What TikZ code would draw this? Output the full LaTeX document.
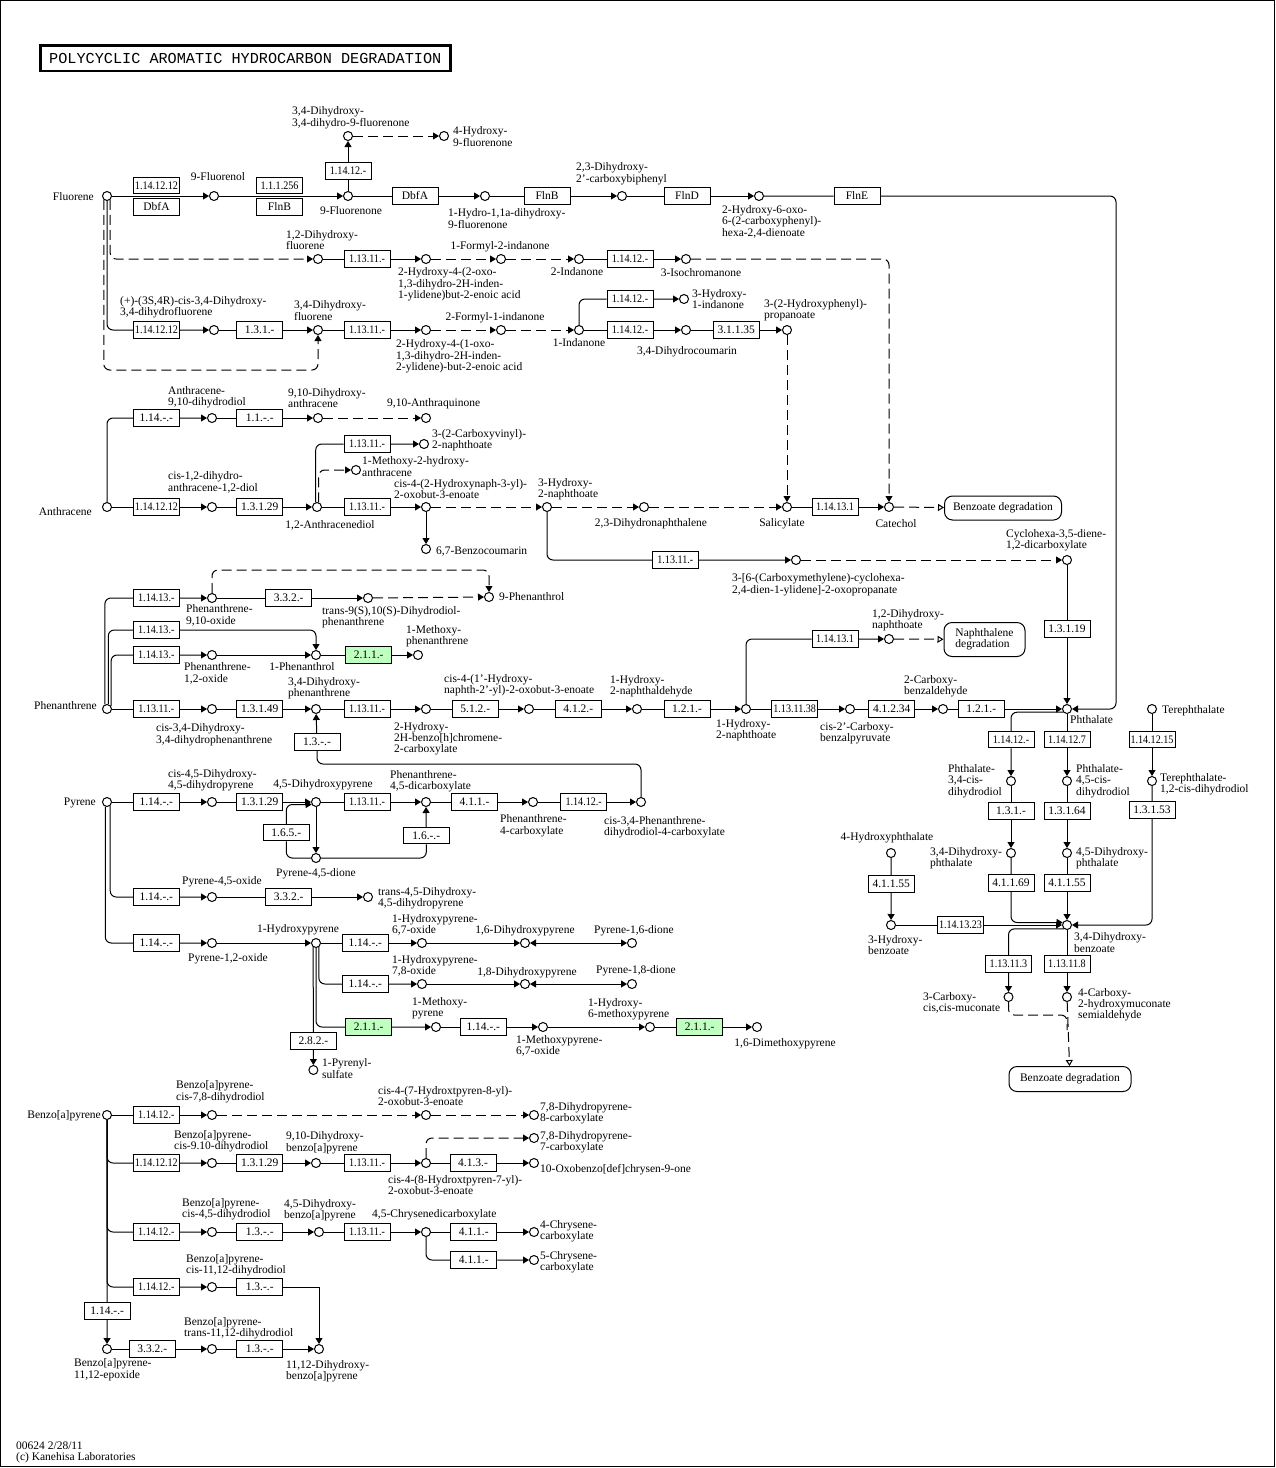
\documentclass[tikz,border=0pt]{standalone}
\usepackage{fontspec}
\setmainfont{Liberation Serif}
\newfontfamily\ecfontn{Liberation Serif}[FakeStretch=0.88]
\newfontfamily\titfont{Liberation Mono}
\usetikzlibrary{arrows.meta}
\definecolor{kgreen}{HTML}{BFFFBF}
\newcounter{lbc}
\newcommand{\LBL}[4]{\stepcounter{lbc}\node[lb,anchor=#1] (lab\arabic{lbc}) at (#2,#3) {\begin{tabular}{@{}l@{}}#4\end{tabular}};}
\newcommand{\CPD}[2]{\node[cpd] (#1) at (#2) {};}
\newcommand{\ECB}[4][]{\node[ecbox,#1] (#2) at (#3) {#4};}
\tikzset{
 cpd/.style={circle,draw,fill=white,line width=1pt,minimum size=9pt,inner sep=0pt},
 ecbox/.style={rectangle,draw,fill=white,line width=1pt,minimum width=46pt,minimum height=16.5pt,inner sep=0pt,font=\fontsize{11.5}{11}\selectfont},
 nar/.style={font=\ecfontn\fontsize{11.5}{11}\selectfont},
 grn/.style={fill=kgreen},
 lb/.style={inner sep=0pt,font=\fontsize{11.5}{11}\selectfont},
 mapbox/.style={rectangle,draw,rounded corners=8pt,line width=1pt,inner sep=0pt,font=\fontsize{11.5}{11}\selectfont},
 ln/.style={line width=1pt},
 arr/.style={line width=1pt,-{Triangle[length=6pt,width=7pt]}},
 oarr/.style={line width=1pt,-{Triangle[open,length=6pt,width=7pt]}},
 dbl/.style={line width=1pt,{Triangle[length=6pt,width=7pt]}-{Triangle[length=6pt,width=7pt]}},
 dsh/.style={dash pattern=on 10pt off 5pt},
 rc/.style={rounded corners=6pt},
}
\begin{document}
\begin{tikzpicture}[x=1pt,y=-1pt]
\useasboundingbox (0,0) rectangle (1276,1468);
\draw[line width=1pt] (0.5,0.5) rectangle (1274.5,1466.5);
\node[draw,line width=2.5pt,inner sep=0pt,minimum width=410pt,minimum height=25.5pt,font=\titfont\fontsize{15.2}{15}\selectfont] (title) at (245.3,58) {POLYCYCLIC AROMATIC HYDROCARBON DEGRADATION};

% ---------- compounds ----------
\CPD{flu}{107,196} \CPD{fol}{214,196} \CPD{fone}{348,196} \CPD{dhdf}{348,136}
\CPD{hf}{444,136} \CPD{hdf}{485,196} \CPD{dcb}{622,196} \CPD{hoc}{759,196}
\CPD{c12}{318,259} \CPD{hoi1}{426,259} \CPD{fi2}{501,259} \CPD{ind2}{579,259} \CPD{isoc}{686,259}
\CPD{cdf}{214,330} \CPD{c34}{318,330} \CPD{hoi2}{426,330} \CPD{fi1}{501,330} \CPD{ind1}{579,330}
\CPD{h1i}{684,299} \CPD{dhc}{686,330} \CPD{hpp}{787,330}
\CPD{anth}{107,507} \CPD{adhd}{212,418} \CPD{dha}{318,418} \CPD{aq}{426,418}
\CPD{cdad}{212,507} \CPD{and}{317,507} \CPD{cvn}{424,444} \CPD{mha}{356,470}
\CPD{hnb}{426,507} \CPD{bzc}{426,549} \CPD{hn}{547,507} \CPD{dhn}{644,507}
\CPD{sal}{787,507} \CPD{cat}{889,507} \CPD{ccp}{796,560} \CPD{chd}{1067,560} \CPD{dhnt}{889,639}
\CPD{phen}{107,709} \CPD{p910}{212,598} \CPD{tdp}{368,598} \CPD{p9ol}{489,597}
\CPD{p12o}{212,655} \CPD{p1ol}{316,655} \CPD{mp}{418,655}
\CPD{cdp}{212,709} \CPD{dhp}{316,709} \CPD{hbc}{426,709} \CPD{chn}{529,709} \CPD{hna}{637,709}
\CPD{hnt}{746,709} \CPD{ccbp}{850,709} \CPD{cbz}{943,709} \CPD{pht}{1067,709} \CPD{tph}{1152,709}
\CPD{p34}{1011,781} \CPD{p45}{1067,781} \CPD{t12}{1152,781}
\CPD{dhp34}{1011,853} \CPD{dhp45}{1067,853} \CPD{hph}{891,853}
\CPD{hbz}{891,925} \CPD{dhbz}{1067,925} \CPD{ccm}{1008.5,997} \CPD{chms}{1067,997}
\CPD{pyr}{107,802} \CPD{cdpy}{212,802} \CPD{dhpy}{316,802} \CPD{pyd}{316,858}
\CPD{pdc}{426,802} \CPD{p4c}{533,802} \CPD{cpdc}{641,802}
\CPD{p45o}{212,897} \CPD{tdpy}{368,897} \CPD{p12ox}{212,943} \CPD{hpy}{316,943}
\CPD{hp67}{422,943} \CPD{d16}{525,943} \CPD{pd16}{632,943}
\CPD{hp78}{422,984} \CPD{d18}{525,984} \CPD{pd18}{632,984}
\CPD{mpy}{436,1027} \CPD{mp67}{543,1027} \CPD{hmp}{650,1027} \CPD{dmp}{757,1027}
\CPD{pys}{313.4,1070}
\CPD{bap}{107,1115} \CPD{b78}{212,1115} \CPD{c7h}{426,1115} \CPD{dp8}{534,1115}
\CPD{b910}{212,1163} \CPD{dhb910}{316,1163} \CPD{c8h}{426,1163} \CPD{dp7}{534,1138} \CPD{oxo}{534,1163}
\CPD{b45}{212,1232} \CPD{dhb45}{319,1232} \CPD{cdc}{426,1232} \CPD{c4}{534,1232} \CPD{c5}{534,1260}
\CPD{b1112}{212,1287} \CPD{dhb1112}{319,1349} \CPD{bep}{107,1349} \CPD{btd}{212,1349}

% ---------- enzymes ----------
\ECB[nar]{e1}{156.5,185.5}{1.14.12.12} \ECB{e2}{156.5,207}{DbfA}
\ECB[nar]{e3}{279.5,185.5}{1.1.1.256} \ECB{e4}{279.5,207}{FlnB}
\ECB[nar]{e5}{348,171}{1.14.12.-} \ECB{e6}{415,196}{DbfA} \ECB{e7}{547,196}{FlnB}
\ECB{e8}{687,196}{FlnD} \ECB{e9}{857,196}{FlnE}
\ECB[nar]{e10}{367,259}{1.13.11.-} \ECB[nar]{e11}{630,259}{1.14.12.-}
\ECB[nar]{e12}{156.5,330}{1.14.12.12} \ECB{e13}{259.7,330}{1.3.1.-} \ECB[nar]{e14}{367,330}{1.13.11.-}
\ECB[nar]{e15}{630,299}{1.14.12.-} \ECB[nar]{e16}{630,330}{1.14.12.-} \ECB{e17}{736.3,330}{3.1.1.35}
\ECB{e18}{156.3,418}{1.14.-.-} \ECB{e19}{259.7,418}{1.1.-.-} \ECB[nar]{e20}{367,444}{1.13.11.-}
\ECB[nar]{e21}{156.5,507}{1.14.12.12} \ECB{e22}{259.7,507}{1.3.1.29} \ECB[nar]{e23}{367,507}{1.13.11.-}
\ECB[nar]{e24}{835,507}{1.14.13.1} \ECB[nar]{e25}{675.3,560}{1.13.11.-} \ECB{e26}{1067,629}{1.3.1.19}
\ECB[nar]{e27}{156.3,598}{1.14.13.-} \ECB{e28}{288.7,598}{3.3.2.-} \ECB[nar]{e29}{156.3,630}{1.14.13.-}
\ECB[nar]{e30}{156.3,655}{1.14.13.-} \ECB[grn]{e31}{368.7,655}{2.1.1.-}
\ECB[nar]{e32}{156.3,709}{1.13.11.-} \ECB{e33}{259.7,709}{1.3.1.49} \ECB{e34}{317,742}{1.3.-.-}
\ECB[nar]{e35}{367,709}{1.13.11.-} \ECB{e36}{475.3,709}{5.1.2.-} \ECB{e37}{578.3,709}{4.1.2.-}
\ECB{e38}{687,709}{1.2.1.-} \ECB[nar]{e39}{835,639}{1.14.13.1} \ECB[nar]{e40}{794.7,709}{1.13.11.38}
\ECB{e41}{891.7,709}{4.1.2.34} \ECB{e42}{981.3,709}{1.2.1.-}
\ECB[nar]{e43}{1011,739.5}{1.14.12.-} \ECB[nar]{e44}{1067,739.5}{1.14.12.7} \ECB[nar]{e45}{1152,739.5}{1.14.12.15}
\ECB{e46}{1011,811}{1.3.1.-} \ECB{e47}{1067,811}{1.3.1.64} \ECB{e48}{1152,810}{1.3.1.53}
\ECB{e49}{1011,883}{4.1.1.69} \ECB{e50}{1067,883}{4.1.1.55} \ECB{e51}{891.3,884}{4.1.1.55}
\ECB[nar]{e52}{960.5,925}{1.14.13.23} \ECB[nar]{e53}{1008.5,964}{1.13.11.3} \ECB[nar]{e54}{1067,964}{1.13.11.8}
\ECB{e55}{156.3,802}{1.14.-.-} \ECB{e56}{259.7,802}{1.3.1.29} \ECB{e57}{286.3,832.5}{1.6.5.-}
\ECB[nar]{e58}{367,802}{1.13.11.-} \ECB{e59}{426.3,835.7}{1.6.-.-} \ECB{e60}{474.5,802}{4.1.1.-}
\ECB[nar]{e61}{583.7,802}{1.14.12.-}
\ECB{e62}{156.3,897}{1.14.-.-} \ECB{e63}{288.7,897}{3.3.2.-}
\ECB{e64}{156.3,943}{1.14.-.-} \ECB{e65}{365.3,943}{1.14.-.-} \ECB{e66}{365.3,984}{1.14.-.-}
\ECB[grn]{e67}{368.7,1027}{2.1.1.-} \ECB{e68}{313.4,1041}{2.8.2.-} \ECB{e69}{483.3,1027}{1.14.-.-}
\ECB[grn]{e70}{699.7,1027}{2.1.1.-}
\ECB[nar]{e71}{156.3,1115}{1.14.12.-} \ECB[nar]{e72}{156.3,1163}{1.14.12.12} \ECB{e73}{259.7,1163}{1.3.1.29}
\ECB[nar]{e74}{367,1163}{1.13.11.-} \ECB{e75}{473,1163}{4.1.3.-}
\ECB[nar]{e76}{156.3,1232}{1.14.12.-} \ECB{e77}{259.7,1232}{1.3.-.-} \ECB[nar]{e78}{367,1232}{1.13.11.-}
\ECB{e79}{473.8,1232}{4.1.1.-} \ECB{e80}{473.8,1260}{4.1.1.-}
\ECB[nar]{e81}{156.3,1287}{1.14.12.-} \ECB{e82}{259.7,1287}{1.3.-.-} \ECB{e83}{107.2,1311}{1.14.-.-}
\ECB{e84}{152.3,1349}{3.3.2.-} \ECB{e85}{259.7,1349}{1.3.-.-}

% ---------- maps ----------
\node[mapbox,minimum width=117pt,minimum height=24pt] (m1) at (1003,508) {Benzoate degradation};
\node[mapbox,minimum width=81pt,minimum height=34pt] (m2) at (984.5,639.5) {\begin{tabular}{@{}l@{}}Naphthalene\\degradation\end{tabular}};
\node[mapbox,minimum width=122pt,minimum height=25pt] (m3) at (1070,1079) {Benzoate degradation};

% ---------- labels ----------
\LBL{east}{94}{198}{Fluorene}
\LBL{south}{218}{184.3}{9-Fluorenol}
\LBL{south west}{292}{129.6}{3,4-Dihydroxy-\\3,4-dihydro-9-fluorenone}
\LBL{west}{453}{138.2}{4-Hydroxy-\\9-fluorenone}
\LBL{north}{351}{206}{9-Fluorenone}
\LBL{north west}{448}{208.6}{1-Hydro-1,1a-dihydroxy-\\9-fluorenone}
\LBL{south west}{576}{185.6}{2,3-Dihydroxy-\\2'-carboxybiphenyl}
\LBL{north west}{722}{205.3}{2-Hydroxy-6-oxo-\\6-(2-carboxyphenyl)-\\hexa-2,4-dienoate}
\LBL{south west}{286}{253}{1,2-Dihydroxy-\\fluorene}
\LBL{north west}{398}{267.6}{2-Hydroxy-4-(2-oxo-\\1,3-dihydro-2H-inden-\\1-ylidene)but-2-enoic acid}
\LBL{south}{500}{253}{1-Formyl-2-indanone}
\LBL{north}{577}{267.6}{2-Indanone}
\LBL{north}{701}{268.6}{3-Isochromanone}
\LBL{south west}{120}{319}{(+)-(3S,4R)-cis-3,4-Dihydroxy-\\3,4-dihydrofluorene}
\LBL{south west}{294}{323.6}{3,4-Dihydroxy-\\fluorene}
\LBL{north west}{396}{339.6}{2-Hydroxy-4-(1-oxo-\\1,3-dihydro-2H-inden-\\2-ylidene)-but-2-enoic acid}
\LBL{south}{495}{324}{2-Formyl-1-indanone}
\LBL{north}{579}{338.6}{1-Indanone}
\LBL{west}{692}{300.5}{3-Hydroxy-\\1-indanone}
\LBL{north}{687}{346}{3,4-Dihydrocoumarin}
\LBL{south west}{764}{322.3}{3-(2-Hydroxyphenyl)-\\propanoate}
\LBL{east}{92}{513}{Anthracene}
\LBL{south west}{168}{409}{Anthracene-\\9,10-dihydrodiol}
\LBL{south west}{288}{411.3}{9,10-Dihydroxy-\\anthracene}
\LBL{south west}{387}{410.3}{9,10-Anthraquinone}
\LBL{west}{432}{440.5}{3-(2-Carboxyvinyl)-\\2-naphthoate}
\LBL{west}{362}{468.2}{1-Methoxy-2-hydroxy-\\anthracene}
\LBL{south west}{168}{494.6}{cis-1,2-dihydro-\\anthracene-1,2-diol}
\LBL{north}{330}{520.3}{1,2-Anthracenediol}
\LBL{south west}{394}{502.3}{cis-4-(2-Hydroxynaph-3-yl)-\\2-oxobut-3-enoate}
\LBL{west}{436}{552}{6,7-Benzocoumarin}
\LBL{south west}{538}{501.3}{3-Hydroxy-\\2-naphthoate}
\LBL{north}{651}{518.6}{2,3-Dihydronaphthalene}
\LBL{north}{782}{518.6}{Salicylate}
\LBL{north}{896}{519.3}{Catechol}
\LBL{north west}{732}{573.6}{3-[6-(Carboxymethylene)-cyclohexa-\\2,4-dien-1-ylidene]-2-oxopropanate}
\LBL{south west}{1006}{552}{Cyclohexa-3,5-diene-\\1,2-dicarboxylate}
\LBL{south west}{872}{632.3}{1,2-Dihydroxy-\\naphthoate}
\LBL{east}{97}{707}{Phenanthrene}
\LBL{north west}{186}{604.6}{Phenanthrene-\\9,10-oxide}
\LBL{north west}{322}{606.3}{trans-9(S),10(S)-Dihydrodiol-\\phenanthrene}
\LBL{west}{499}{598.3}{9-Phenanthrol}
\LBL{north west}{184}{662.6}{Phenanthrene-\\1,2-oxide}
\LBL{north}{302}{662}{1-Phenanthrol}
\LBL{south west}{406}{648}{1-Methoxy-\\phenanthrene}
\LBL{north west}{156}{723.6}{cis-3,4-Dihydroxy-\\3,4-dihydrophenanthrene}
\LBL{south west}{288}{700.3}{3,4-Dihydroxy-\\phenanthrene}
\LBL{north west}{394}{722}{2-Hydroxy-\\2H-benzo[h]chromene-\\2-carboxylate}
\LBL{south west}{444}{697}{cis-4-(1'-Hydroxy-\\naphth-2'-yl)-2-oxobut-3-enoate}
\LBL{south west}{610}{698}{1-Hydroxy-\\2-naphthaldehyde}
\LBL{north west}{716}{719.3}{1-Hydroxy-\\2-naphthoate}
\LBL{north west}{820}{722}{cis-2'-Carboxy-\\benzalpyruvate}
\LBL{south west}{904}{698}{2-Carboxy-\\benzaldehyde}
\LBL{north west}{1070}{715.3}{Phthalate}
\LBL{west}{1162}{711}{Terephthalate}
\LBL{north west}{948}{764.6}{Phthalate-\\3,4-cis-\\dihydrodiol}
\LBL{north west}{1076}{764.6}{Phthalate-\\4,5-cis-\\dihydrodiol}
\LBL{west}{1160}{784.8}{Terephthalate-\\1,2-cis-dihydrodiol}
\LBL{south}{887}{843.6}{4-Hydroxyphthalate}
\LBL{north west}{930}{847}{3,4-Dihydroxy-\\phthalate}
\LBL{north west}{1076}{847}{4,5-Dihydroxy-\\phthalate}
\LBL{north west}{868}{935.3}{3-Hydroxy-\\benzoate}
\LBL{north west}{1074}{932.6}{3,4-Dihydroxy-\\benzoate}
\LBL{north west}{923}{992}{3-Carboxy-\\cis,cis-muconate}
\LBL{north west}{1078}{988}{4-Carboxy-\\2-hydroxymuconate\\semialdehyde}
\LBL{east}{96}{803}{Pyrene}
\LBL{south west}{168}{792.3}{cis-4,5-Dihydroxy-\\4,5-dihydropyrene}
\LBL{south}{323}{791.3}{4,5-Dihydroxypyrene}
\LBL{north}{316}{868}{Pyrene-4,5-dione}
\LBL{south west}{390}{793}{Phenanthrene-\\4,5-dicarboxylate}
\LBL{north west}{500}{814.6}{Phenanthrene-\\4-carboxylate}
\LBL{north west}{604}{816.3}{cis-3,4-Phenanthrene-\\dihydrodiol-4-carboxylate}
\LBL{south}{222}{888}{Pyrene-4,5-oxide}
\LBL{west}{378}{899}{trans-4,5-Dihydroxy-\\4,5-dihydropyrene}
\LBL{north}{228}{953.6}{Pyrene-1,2-oxide}
\LBL{south}{298}{936.3}{1-Hydroxypyrene}
\LBL{south west}{392}{937.3}{1-Hydroxypyrene-\\6,7-oxide}
\LBL{south}{525}{937.3}{1,6-Dihydroxypyrene}
\LBL{south}{634}{937.3}{Pyrene-1,6-dione}
\LBL{south west}{392}{978}{1-Hydroxypyrene-\\7,8-oxide}
\LBL{south}{527}{979}{1,8-Dihydroxypyrene}
\LBL{south}{636}{977.3}{Pyrene-1,8-dione}
\LBL{south west}{412}{1020.3}{1-Methoxy-\\pyrene}
\LBL{north west}{516}{1035.3}{1-Methoxypyrene-\\6,7-oxide}
\LBL{south west}{588}{1021.3}{1-Hydroxy-\\6-methoxypyrene}
\LBL{north}{785}{1038}{1,6-Dimethoxypyrene}
\LBL{north west}{322}{1058.6}{1-Pyrenyl-\\sulfate}
\LBL{east}{101}{1116}{Benzo[a]pyrene}
\LBL{south west}{176}{1103.6}{Benzo[a]pyrene-\\cis-7,8-dihydrodiol}
\LBL{south west}{378}{1109}{cis-4-(7-Hydroxtpyren-8-yl)-\\2-oxobut-3-enoate}
\LBL{west}{540}{1113.5}{7,8-Dihydropyrene-\\8-carboxylate}
\LBL{south west}{174}{1153}{Benzo[a]pyrene-\\cis-9.10-dihydrodiol}
\LBL{south west}{286}{1154.6}{9,10-Dihydroxy-\\benzo[a]pyrene}
\LBL{north west}{388}{1175.3}{cis-4-(8-Hydroxtpyren-7-yl)-\\2-oxobut-3-enoate}
\LBL{west}{540}{1142.3}{7,8-Dihydropyrene-\\7-carboxylate}
\LBL{west}{540}{1170}{10-Oxobenzo[def]chrysen-9-one}
\LBL{south west}{182}{1221.3}{Benzo[a]pyrene-\\cis-4,5-dihydrodiol}
\LBL{south west}{284}{1222.3}{4,5-Dihydroxy-\\benzo[a]pyrene}
\LBL{south west}{372}{1221.3}{4,5-Chrysenedicarboxylate}
\LBL{west}{540}{1231.8}{4-Chrysene-\\carboxylate}
\LBL{west}{540}{1262.3}{5-Chrysene-\\carboxylate}
\LBL{south west}{186}{1277}{Benzo[a]pyrene-\\cis-11,12-dihydrodiol}
\LBL{south west}{184}{1340.3}{Benzo[a]pyrene-\\trans-11,12-dihydrodiol}
\LBL{north west}{286}{1360.3}{11,12-Dihydroxy-\\benzo[a]pyrene}
\LBL{north west}{74}{1358.6}{Benzo[a]pyrene-\\11,12-epoxide}
\LBL{south west}{16}{1464}{00624 2/28/11\\(c) Kanehisa Laboratories}

% ---------- connectors: fluorene ----------
\draw[arr] (flu) -- (fol);
\draw[arr] (fol) -- (fone);
\draw[arr] (fone) -- (e5) -- (dhdf);
\draw[arr,dsh] (dhdf) -- (hf);
\draw[arr] (fone) -- (e6) -- (hdf);
\draw[arr] (hdf) -- (e7) -- (dcb);
\draw[arr] (dcb) -- (e8) -- (hoc);
\draw[arr,rc] (hoc) -- (e9) -- (1116,196) |- (pht);
\draw[arr,dsh,rc] (flu.-50) |- (c12);
\draw[arr,rc] (flu.-90) |- (e12) -- (cdf);
\draw[arr,dsh,rc] (flu.-130) |- (318,370) -- (c34);
\draw[arr] (cdf) -- (e13) -- (c34);
\draw[arr] (c12) -- (e10) -- (hoi1);
\draw[arr,dsh] (hoi1) -- (fi2);
\draw[arr,dsh] (fi2) -- (ind2);
\draw[arr] (ind2) -- (e11) -- (isoc);
\draw[arr,dsh,rc] (isoc) -- (889,259) -- (cat);
\draw[arr] (c34) -- (e14) -- (hoi2);
\draw[arr,dsh] (hoi2) -- (fi1);
\draw[arr,dsh] (fi1) -- (ind1);
\draw[arr,rc] (ind1) |- (e15) -- (h1i);
\draw[arr] (ind1) -- (e16) -- (dhc);
\draw[arr] (dhc) -- (e17) -- (hpp);
\draw[arr,dsh] (hpp) -- (sal);
% ---------- anthracene ----------
\draw[arr,rc] (anth) |- (e18) -- (adhd);
\draw[arr] (adhd) -- (e19) -- (dha);
\draw[arr,dsh] (dha) -- (aq);
\draw[arr] (anth) -- (e21) -- (cdad);
\draw[arr] (cdad) -- (e22) -- (and);
\draw[arr,rc] (and.105) |- (e20) -- (cvn);
\draw[arr,dsh,rc] (and.70) |- (mha);
\draw[arr] (and) -- (e23) -- (hnb);
\draw[arr] (hnb) -- (bzc);
\draw[arr,dsh] (hnb) -- (hn);
\draw[arr,dsh] (hn) -- (dhn);
\draw[arr,dsh] (dhn) -- (sal);
\draw[arr] (sal) -- (e24) -- (cat);
\draw[oarr,dsh] (cat) -- (m1);
\draw[arr,rc] (hn) |- (e25) -- (ccp);
\draw[arr,dsh] (ccp) -- (chd);
\draw[arr] (chd) -- (e26) -- (pht);
% ---------- phenanthrene ----------
\draw[arr,rc] (phen.115) |- (e27) -- (p910);
\draw[arr,rc] (phen.75) |- (e29) -| (p1ol);
\draw[arr,rc] (phen.35) |- (e30) -- (p12o);
\draw[arr] (p910) -- (e28) -- (tdp);
\draw[arr,dsh] (tdp) -- (p9ol);
\draw[arr,dsh,rc] (p910) |- (489,570) -- (p9ol);
\draw[arr] (p12o) -- (p1ol);
\draw[arr] (p1ol) -- (e31) -- (mp);
\draw[arr] (phen) -- (e32) -- (cdp);
\draw[arr] (cdp) -- (e33) -- (dhp);
\draw[ln,rc] (cpdc) |- (317,764) -- (e34);
\draw[arr] (e34) -- (dhp);
\draw[arr] (dhp) -- (e35) -- (hbc);
\draw[arr] (hbc) -- (e36) -- (chn);
\draw[arr] (chn) -- (e37) -- (hna);
\draw[arr] (hna) -- (e38) -- (hnt);
\draw[arr,rc] (hnt) |- (e39) -- (dhnt);
\draw[oarr,dsh] (dhnt) -- (m2);
\draw[arr] (hnt) -- (e40) -- (ccbp);
\draw[arr] (ccbp) -- (e41) -- (cbz);
\draw[arr] (cbz) -- (e42) -- (pht);
% ---------- phthalate ----------
\draw[arr,rc] (pht.-140) -| (e43) -- (p34);
\draw[arr] (pht) -- (e44) -- (p45);
\draw[arr] (tph) -- (e45) -- (t12);
\draw[arr] (p34) -- (e46) -- (dhp34);
\draw[arr] (p45) -- (e47) -- (dhp45);
\draw[arr,rc] (dhp34) -- (e49) |- (dhbz.150);
\draw[arr] (dhp45) -- (e50) -- (dhbz);
\draw[arr,rc] (t12) -- (e48) |- (dhbz);
\draw[arr] (hph) -- (e51) -- (hbz);
\draw[arr] (hbz) -- (e52) -- (dhbz);
\draw[arr,rc] (dhbz.-130) -| (e53) -- (ccm);
\draw[arr] (dhbz) -- (e54) -- (chms);
\draw[oarr,dsh] (chms) -- (m3);
\draw[ln,dsh,rc] (ccm) -- (1008.5,1015) -- (1067,1015) -- (1067,1030);
% ---------- pyrene ----------
\draw[arr] (pyr) -- (e55) -- (cdpy);
\draw[arr] (cdpy) -- (e56) -- (dhpy);
\draw[arr] (dhpy) -- (pyd);
\draw[arr,rc] (pyd) -| (e57) |- (dhpy.-150);
\draw[arr] (dhpy) -- (e58) -- (pdc);
\draw[arr,rc] (pyd) -| (e59) -- (pdc);
\draw[arr] (pdc) -- (e60) -- (p4c);
\draw[arr] (p4c) -- (e61) -- (cpdc);
\draw[arr,rc] (pyr.-50) |- (e62) -- (p45o);
\draw[arr] (p45o) -- (e63) -- (tdpy);
\draw[arr,rc] (pyr.-110) |- (e64) -- (p12ox);
\draw[arr] (p12ox) -- (hpy);
\draw[arr] (hpy) -- (e65) -- (hp67);
\draw[arr] (hp67) -- (d16);
\draw[dbl] (d16) -- (pd16);
\draw[arr] (hpy.-125) -- (e68) -- (pys);
\draw[arr,rc] (hpy.-90) |- (e67) -- (mpy);
\draw[arr,rc] (hpy.-55) |- (e66) -- (hp78);
\draw[arr] (hp78) -- (d18);
\draw[dbl] (d18) -- (pd18);
\draw[arr] (mpy) -- (e69) -- (mp67);
\draw[arr] (mp67) -- (hmp);
\draw[arr] (hmp) -- (e70) -- (dmp);
% ---------- benzo[a]pyrene ----------
\draw[arr] (bap) -- (e71) -- (b78);
\draw[arr,dsh] (b78) -- (c7h);
\draw[arr,dsh] (c7h) -- (dp8);
\draw[arr] (bap) -- (e83) -- (bep);
\draw[arr,rc] (bap) |- (e72) -- (b910);
\draw[arr] (b910) -- (e73) -- (dhb910);
\draw[arr] (dhb910) -- (e74) -- (c8h);
\draw[arr,dsh,rc] (c8h) |- (dp7);
\draw[arr] (c8h) -- (e75) -- (oxo);
\draw[arr,rc] (bap) |- (e76) -- (b45);
\draw[arr] (b45) -- (e77) -- (dhb45);
\draw[arr] (dhb45) -- (e78) -- (cdc);
\draw[arr] (cdc) -- (e79) -- (c4);
\draw[arr,rc] (cdc) |- (e80) -- (c5);
\draw[arr,rc] (bap) |- (e81) -- (b1112);
\draw[arr] (b1112) -- (e82) -| (dhb1112);
\draw[arr] (bep) -- (e84) -- (btd);
\draw[arr] (btd) -- (e85) -- (dhb1112);
\end{tikzpicture}
\end{document}
